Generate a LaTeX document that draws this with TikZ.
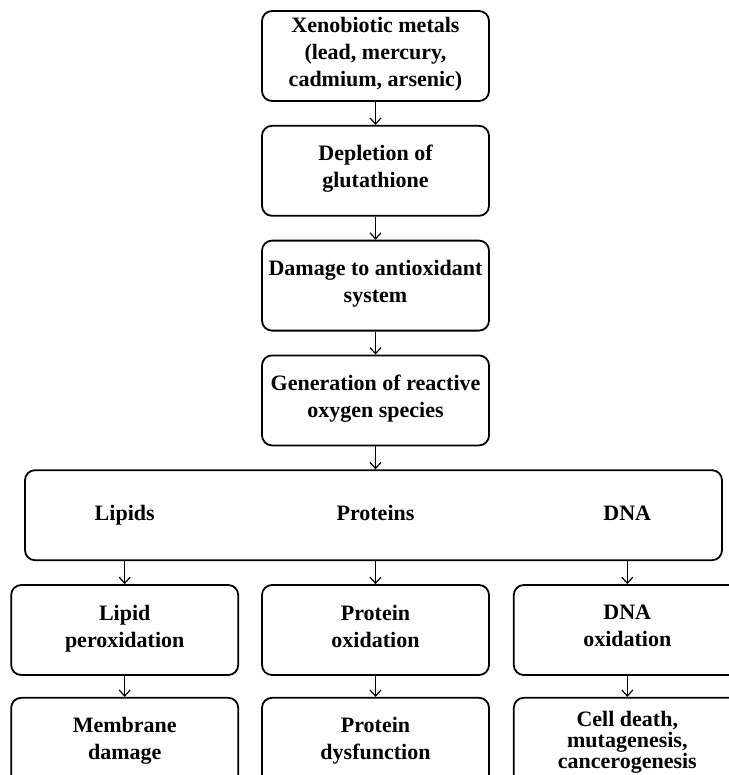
\documentclass[tikz,border=0pt]{standalone}
\usepackage{fontspec}
\setmainfont{Liberation Serif}
\usetikzlibrary{arrows.meta,positioning}

\begin{document}
\begin{tikzpicture}[x=0.5pt, y=0.5pt,
		basic/.style   = {draw, line width=0.9pt, rounded corners=5pt, align=center, inner sep=0pt,
		                  font=\fontsize{11}{13.5}\selectfont\bfseries,
		                  execute at begin node=\strut, execute at end node=\strut},
		stepbox/.style = {basic, minimum width=113.5pt, minimum height=45pt},
		wide/.style    = {basic, minimum width=348.5pt, minimum height=45pt},
		target/.style  = {font=\fontsize{11}{13.5}\selectfont\bfseries, execute at begin node=\strut},
		link/.style    = {->, line width=0.6pt},
		>={Straight Barb[length=3pt,width=5.5pt]},
		node distance=11.5pt]
		
		\useasboundingbox (0,0) rectangle (728,-775);
		
		% Main chain, top to bottom
		\node[stepbox] at (375.5,-56) (xeno) {Xenobiotic metals\\(lead, mercury,\\cadmium, arsenic)};
		\node[stepbox, below=of xeno] (glut) {Depletion of\\glutathione};
		\node[stepbox, below=of glut] (antiox) {Damage to antioxidant\\system};
		\node[stepbox, below=of antiox] (ros) {Generation of reactive\\oxygen species};
		
		% Wide box with the three targets
		\node[wide, below=of ros, xshift=-1pt] (targets) {};
		
		% Second level, relatively positioned nodes
		\node[stepbox, below=of targets, xshift=1pt] (prox) {Protein\\oxidation};
		\node[stepbox, left=11pt of prox] (lpo) {Lipid\\peroxidation};
		\node[stepbox, right=11.5pt of prox] (dnaox) {DNA\\oxidation};
		
		\node[stepbox, below=10.5pt of lpo] (membr) {Membrane\\damage};
		\node[stepbox, below=10.5pt of prox] (pdys) {Protein\\dysfunction};
		\node[stepbox, below=10.5pt of dnaox, font=\fontsize{11}{10.5}\selectfont\bfseries] (death) {Cell death,\\mutagenesis,\\cancerogenesis};
		
		% Target labels inside the wide box
		\node[target] at (targets.center -| lpo) (lipids) {Lipids};
		\node[target] at (targets.center -| prox) (proteins) {Proteins};
		\node[target] at (targets.center -| dnaox) (dna) {DNA};
		
		% Arrows
		\foreach \a/\b in {xeno/glut, glut/antiox, antiox/ros, lpo/membr, prox/pdys, dnaox/death}
		\draw[link] (\a.south) -- (\b.north);
		
		\draw[link] (ros.south) -- (ros.south |- targets.north);
		
		\foreach \n in {lpo,prox,dnaox}
		\draw[link] (\n.north |- targets.south) -- (\n.north);
		
	\end{tikzpicture}
\end{document}
